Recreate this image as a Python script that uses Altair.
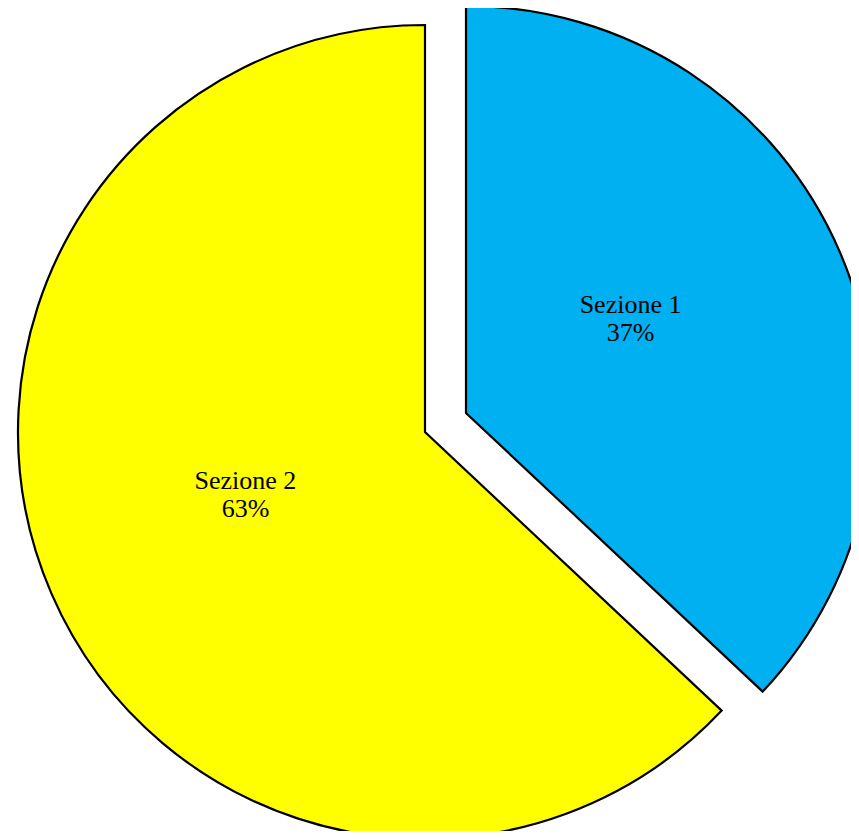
import altair as alt
import pandas as pd

categories = ["Sezione 1", "Sezione 2"]
values = [37, 63]
colors = ["#00B0F0", "#FFFF00"]

df = pd.DataFrame({"cat": categories, "val": values})

base = alt.Chart(df).transform_joinaggregate(
    total="sum(val)"
).transform_window(
    cum="sum(val)", sort=[alt.SortField("cat")]
).transform_calculate(
    t1="(datum.cum - datum.val) / datum.total",
    t2="datum.cum / datum.total",
    tm="(datum.cum - datum.val / 2) / datum.total",
    label="[datum.cat, datum.val + '%']",
)

theta_scale = alt.Scale(domain=[0, 1], range=[0, 6.283185307179586])
color_scale = alt.Scale(domain=categories, range=colors)

R = 407
RL = 188

def slice_layer(cat, cx, cy, ldx, ldy):
    b = base.transform_filter(alt.datum.cat == cat)
    arc = b.mark_arc(stroke="black", strokeWidth=2.2, outerRadius=R).encode(
        theta=alt.Theta("t1:Q", scale=theta_scale),
        theta2="t2:Q",
        color=alt.Color("cat:N", scale=color_scale, legend=None),
        x=alt.value(cx),
        y=alt.value(cy),
    )
    txt = b.mark_text(
        font="Liberation Serif", fontSize=26, color="black",
        lineHeight=28, align="center", baseline="middle", dx=ldx, dy=ldy,
    ).encode(
        theta=alt.Theta("tm:Q", scale=theta_scale),
        radius=alt.value(RL),
        text=alt.Text("label:N"),
        x=alt.value(cx),
        y=alt.value(cy),
    )
    return [arc, txt]

layers = slice_layer("Sezione 2", 417, 424, -7, -26) + slice_layer("Sezione 1", 458, 405, -8, -33)

chart = alt.layer(*layers).properties(
    width=843, height=823, padding=0,
    autosize=alt.AutoSizeParams(type="none"),
).configure_view(stroke=None)

chart.save("out.html", embed_options={"renderer": "svg", "actions": False})
